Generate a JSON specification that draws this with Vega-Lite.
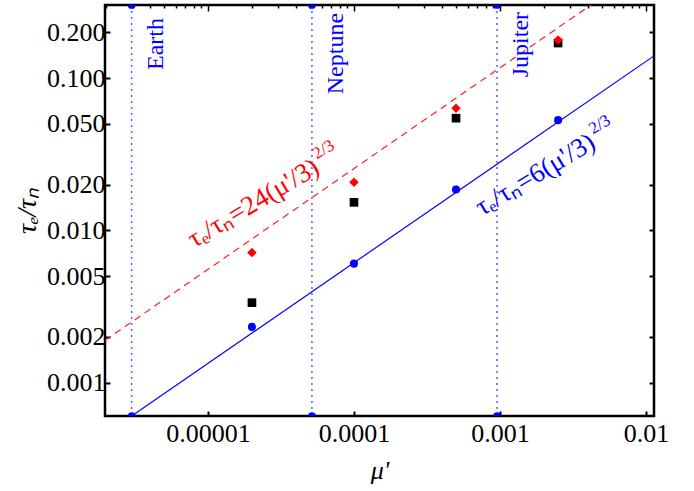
{
  "$schema": "https://vega.github.io/schema/vega-lite/v6.json",
  "width": 549,
  "height": 411,
  "autosize": {"type": "none"},
  "padding": {"left": 105, "top": 5, "right": 40, "bottom": 75},
  "background": "white",
  "config": {
    "view": {"stroke": "black", "strokeWidth": 2.5},
    "font": "Liberation Serif",
    "axis": {
      "domain": false,
      "grid": false,
      "labelFont": "Liberation Serif",
      "labelFontSize": 26,
      "labelColor": "black",
      "tickColor": "black",
      "tickWidth": 2,
      "titleFont": "Liberation Serif",
      "titleFontSize": 28,
      "titleFontWeight": "normal",
      "titleFontStyle": "italic",
      "titleColor": "black"
    }
  },
  "resolve": {"axis": {"x": "independent", "y": "independent"}},
  "datasets": {
    "squares": [
      {"mu": 2e-5, "tau": 0.00336},
      {"mu": 1e-4, "tau": 0.0153},
      {"mu": 5e-4, "tau": 0.0546},
      {"mu": 2.5e-3, "tau": 0.17}
    ],
    "diamonds": [
      {"mu": 2e-5, "tau": 0.00716},
      {"mu": 1e-4, "tau": 0.0207},
      {"mu": 5e-4, "tau": 0.0635},
      {"mu": 2.5e-3, "tau": 0.178}
    ],
    "circles": [
      {"mu": 2e-5, "tau": 0.00233},
      {"mu": 1e-4, "tau": 0.00606},
      {"mu": 5e-4, "tau": 0.0186},
      {"mu": 2.5e-3, "tau": 0.053}
    ],
    "redline": [
      {"mu": 1.97e-6, "tau": 0.0019},
      {"mu": 4.2e-3, "tau": 0.302}
    ],
    "blueline": [
      {"mu": 3.0e-6, "tau": 0.000606},
      {"mu": 0.01135, "tau": 0.14}
    ],
    "planets": [
      {"planet": "Earth", "mu": 3.0e-6, "tau": 0.248, "top": 0.302, "bottom": 0.000606},
      {"planet": "Neptune", "mu": 5.15e-5, "tau": 0.268, "top": 0.302, "bottom": 0.000606},
      {"planet": "Jupiter", "mu": 9.55e-4, "tau": 0.272, "top": 0.302, "bottom": 0.000606}
    ],
    "annot": [
      {"label": "τₑ/τₙ=24(μ'/3)", "sup": "2/3", "mu": 5.94e-5, "tau": 0.0241, "c": "red"},
      {"label": "τₑ/τₙ=6(μ'/3)", "sup": "2/3", "mu": 4.62e-3, "tau": 0.0352, "c": "blue"}
    ]
  },
  "layer": [
    {
      "data": {"name": "redline"},
      "mark": {"type": "line", "color": "#ff2020", "strokeWidth": 1.2, "strokeDash": [7, 5], "clip": true},
      "encoding": {
        "x": {"field": "mu", "type": "quantitative", "scale": {"type": "log", "domain": [1.97e-6, 0.01135], "nice": false},
          "axis": {"orient": "top", "title": null, "labels": false,
            "values": [2e-6,3e-6,4e-6,5e-6,6e-6,7e-6,8e-6,9e-6,1e-5,2e-5,3e-5,4e-5,5e-5,6e-5,7e-5,8e-5,9e-5,1e-4,2e-4,3e-4,4e-4,5e-4,6e-4,7e-4,8e-4,9e-4,1e-3,2e-3,3e-3,4e-3,5e-3,6e-3,7e-3,8e-3,9e-3,1e-2],
            "tickSize": {"condition": {"test": "abs(log(datum.value)/LN10 - round(log(datum.value)/LN10)) < 0.01", "value": -6}, "value": -3},
            "tickWidth": 1.5}},
        "y": {"field": "tau", "type": "quantitative", "scale": {"type": "log", "domain": [0.000606, 0.302], "nice": false},
          "axis": {"orient": "right", "title": null, "labels": false, "values": [0.001, 0.002, 0.005, 0.01, 0.02, 0.05, 0.1, 0.2], "tickSize": -5}}
      }
    },
    {
      "data": {"name": "blueline"},
      "mark": {"type": "line", "color": "#0000ff", "strokeWidth": 1.2, "clip": true},
      "encoding": {
        "x": {"field": "mu", "type": "quantitative", "scale": {"type": "log", "domain": [1.97e-6, 0.01135], "nice": false}, "axis": null},
        "y": {"field": "tau", "type": "quantitative", "scale": {"type": "log", "domain": [0.000606, 0.302], "nice": false}, "axis": null}
      }
    },
    {
      "data": {"name": "planets"},
      "mark": {"type": "rule", "color": "#5c5cff", "strokeWidth": 1.5, "strokeDash": [2, 4]},
      "encoding": {
        "x": {"field": "mu", "type": "quantitative", "scale": {"type": "log", "domain": [1.97e-6, 0.01135], "nice": false}, "axis": null}
      }
    },
    {
      "data": {"name": "planets"},
      "mark": {"type": "point", "filled": true, "color": "#0000ff", "size": 60, "opacity": 1, "clip": true},
      "encoding": {
        "x": {"field": "mu", "type": "quantitative", "scale": {"type": "log", "domain": [1.97e-6, 0.01135], "nice": false}, "axis": null},
        "y": {"field": "top", "type": "quantitative", "scale": {"type": "log", "domain": [0.000606, 0.302], "nice": false}, "axis": null}
      }
    },
    {
      "data": {"name": "planets"},
      "mark": {"type": "point", "filled": true, "color": "#0000ff", "size": 60, "opacity": 1, "clip": true},
      "encoding": {
        "x": {"field": "mu", "type": "quantitative", "scale": {"type": "log", "domain": [1.97e-6, 0.01135], "nice": false}, "axis": null},
        "y": {"field": "bottom", "type": "quantitative", "scale": {"type": "log", "domain": [0.000606, 0.302], "nice": false}, "axis": null}
      }
    },
    {
      "data": {"name": "squares"},
      "mark": {"type": "square", "filled": true, "color": "black", "size": 75, "opacity": 1},
      "encoding": {
        "x": {"field": "mu", "type": "quantitative", "scale": {"type": "log", "domain": [1.97e-6, 0.01135], "nice": false},
          "axis": {"orient": "bottom", "values": [1e-5, 1e-4, 1e-3, 1e-2],
            "labelExpr": "datum.value < 5e-5 ? '0.00001' : datum.value < 5e-4 ? '0.0001' : datum.value < 5e-3 ? '0.001' : '0.01'",
            "tickSize": -5, "labelPadding": 9, "title": "μ'", "titlePadding": 11, "titleFontSize": 26}},
        "y": {"field": "tau", "type": "quantitative", "scale": {"type": "log", "domain": [0.000606, 0.302], "nice": false},
          "axis": {"orient": "left", "values": [0.001, 0.002, 0.005, 0.01, 0.02, 0.05, 0.1, 0.2], "format": ".3f",
            "tickSize": -5, "labelPadding": 5, "title": "τₑ/τₙ", "titlePadding": 5}}
      }
    },
    {
      "data": {"name": "diamonds"},
      "mark": {"type": "point", "shape": "diamond", "filled": true, "color": "#ff0000", "size": 90, "opacity": 1},
      "encoding": {
        "x": {"field": "mu", "type": "quantitative", "scale": {"type": "log", "domain": [1.97e-6, 0.01135], "nice": false}, "axis": null},
        "y": {"field": "tau", "type": "quantitative", "scale": {"type": "log", "domain": [0.000606, 0.302], "nice": false}, "axis": null}
      }
    },
    {
      "data": {"name": "circles"},
      "mark": {"type": "circle", "color": "#0000ff", "size": 65, "opacity": 1},
      "encoding": {
        "x": {"field": "mu", "type": "quantitative", "scale": {"type": "log", "domain": [1.97e-6, 0.01135], "nice": false}, "axis": null},
        "y": {"field": "tau", "type": "quantitative", "scale": {"type": "log", "domain": [0.000606, 0.302], "nice": false}, "axis": null}
      }
    },
    {
      "data": {"name": "planets"},
      "mark": {"type": "text", "angle": 270, "align": "right", "baseline": "middle", "dy": 24, "color": "#0000ff", "fontSize": 24, "font": "Liberation Serif"},
      "encoding": {
        "x": {"field": "mu", "type": "quantitative", "scale": {"type": "log", "domain": [1.97e-6, 0.01135], "nice": false}, "axis": null},
        "y": {"field": "tau", "type": "quantitative", "scale": {"type": "log", "domain": [0.000606, 0.302], "nice": false}, "axis": null},
        "text": {"field": "planet"}
      }
    },
    {
      "data": {"name": "annot"},
      "mark": {"type": "text", "angle": 329, "align": "right", "baseline": "alphabetic", "fontSize": 27, "font": "Liberation Serif"},
      "encoding": {
        "x": {"field": "mu", "type": "quantitative", "scale": {"type": "log", "domain": [1.97e-6, 0.01135], "nice": false}, "axis": null},
        "y": {"field": "tau", "type": "quantitative", "scale": {"type": "log", "domain": [0.000606, 0.302], "nice": false}, "axis": null},
        "text": {"field": "label"},
        "color": {"field": "c", "type": "nominal", "scale": null}
      }
    },
    {
      "data": {"name": "annot"},
      "mark": {"type": "text", "angle": 329, "align": "left", "baseline": "alphabetic", "dx": 3, "dy": -13, "fontSize": 17, "font": "Liberation Serif"},
      "encoding": {
        "x": {"field": "mu", "type": "quantitative", "scale": {"type": "log", "domain": [1.97e-6, 0.01135], "nice": false}, "axis": null},
        "y": {"field": "tau", "type": "quantitative", "scale": {"type": "log", "domain": [0.000606, 0.302], "nice": false}, "axis": null},
        "text": {"field": "sup"},
        "color": {"field": "c", "type": "nominal", "scale": null}
      }
    }
  ]
}
